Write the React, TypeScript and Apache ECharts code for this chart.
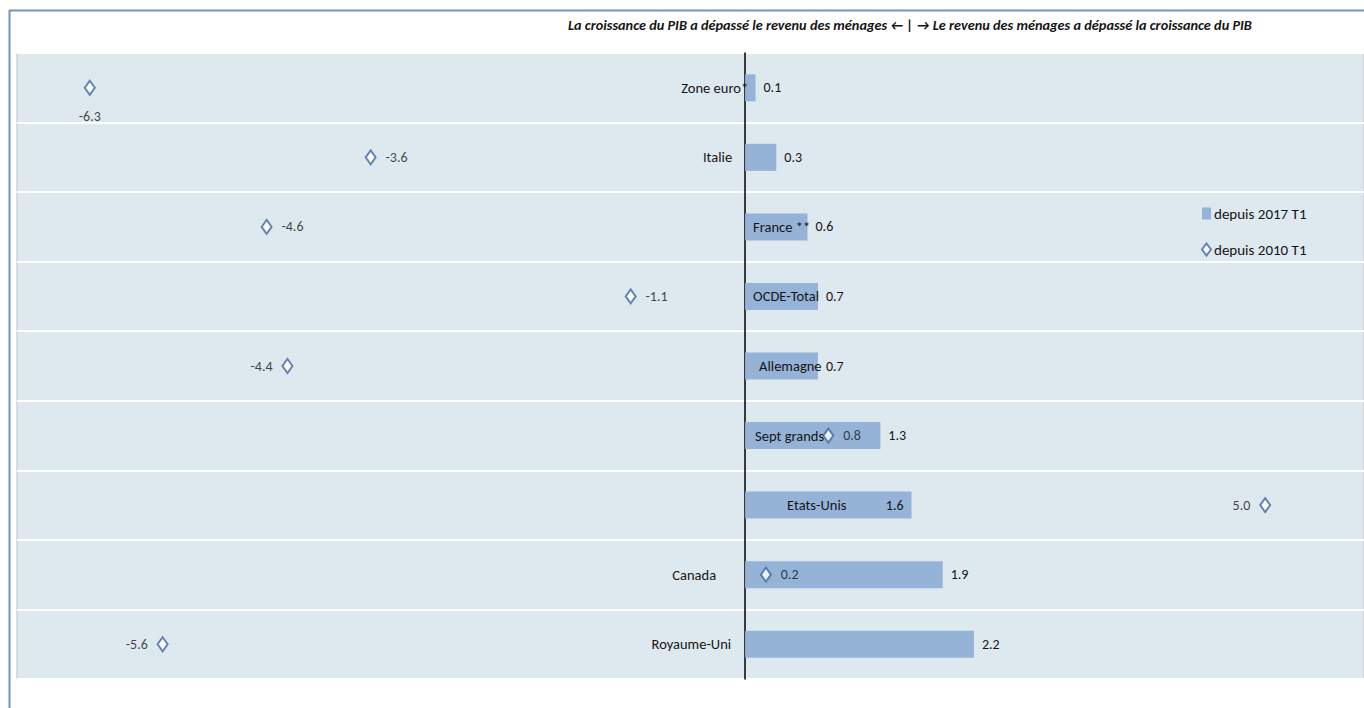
import React, { useEffect, useRef } from "react";
import * as echarts from "echarts";

const categories = [
  "Zone euro*",
  "Italie",
  "France **",
  "OCDE-Total",
  "Allemagne",
  "Sept grands",
  "Etats-Unis",
  "Canada",
  "Royaume-Uni",
];
const since2017 = [0.1, 0.3, 0.6, 0.7, 0.7, 1.3, 1.6, 1.9, 2.2];
const since2010 = [-6.3, -3.6, -4.6, -1.1, -4.4, 0.8, 5.0, 0.2, -5.6];
const seriesNames = ["depuis 2017 T1", "depuis 2010 T1"];
const titleText =
  "La croissance du PIB a dépassé le revenu des ménages \u2190 | \u2192 Le revenu des ménages a dépassé la croissance du PIB";

// label placement (styling only)
const namePlacement: [number, "left" | "right"][] = [
  [3, "right"],
  [-13, "right"],
  [8, "left"],
  [8, "left"],
  [14, "left"],
  [10, "left"],
  [42, "left"],
  [-29, "right"],
  [-14, "right"],
];
const valuePlacement = ["right", "right", "right", "right", "right", "right", "insideRight", "right", "right"];
const diamondPlacement = ["bottom", "right", "right", "right", "left", "right", "left", "right", "left"];

const FONT = "Carlito, Lato, 'Liberation Sans Narrow', sans-serif";
const TXT = "#151515";

export default function App() {
  const ref = useRef<HTMLDivElement>(null);
  useEffect(() => {
    if (!ref.current) return;
    const chart = echarts.init(ref.current, null, { renderer: "svg" });
    const option: any = {
      animation: false,
      backgroundColor: "#ffffff",
      textStyle: { fontFamily: FONT },
      grid: {
        left: 17,
        right: 0,
        top: 53,
        bottom: 29,
        show: true,
        backgroundColor: "#dee8ef",
        borderColor: "#bfbfbf",
        borderWidth: 1,
      },
      legend: {
        data: [
          { name: seriesNames[0], icon: "rect" },
          { name: seriesNames[1] },
        ],
        orient: "vertical",
        left: 1196,
        top: 201,
        itemGap: 21,
        itemWidth: 9,
        itemHeight: 12,
        textStyle: { fontFamily: FONT, fontSize: 15, color: TXT, padding: [0, 0, 0, -2] },
      },
      xAxis: {
        type: "value",
        min: -7,
        max: 5.95,
        show: false,
        splitLine: { show: false },
      },
      yAxis: {
        type: "category",
        data: categories,
        inverse: true,
        axisTick: { show: false },
        axisLabel: { show: false },
        axisLine: { show: true, onZero: true, lineStyle: { color: "#000", width: 1.5 } },
        splitLine: { show: true, lineStyle: { color: "#ffffff", width: 2 } },
      },
      graphic: [
        {
          type: "line",
          shape: { x1: 9, y1: 10.5, x2: 1364, y2: 10.5 },
          style: { stroke: "#6f93c6", lineWidth: 2 },
          silent: true,
        },
        {
          type: "line",
          shape: { x1: 9.5, y1: 10, x2: 9.5, y2: 708 },
          style: { stroke: "#6f93c6", lineWidth: 2 },
          silent: true,
        },
        {
          type: "text",
          left: 568,
          top: 18,
          style: {
            text: titleText,
            fontFamily: FONT,
            fontStyle: "italic",
            fontWeight: "bold",
            fontSize: 14.3,
            fill: TXT,
          },
        },
      ],
      series: [
        {
          name: seriesNames[0],
          type: "bar",
          barWidth: 27,
          itemStyle: { color: "#95b3d7" },
          z: 2,
          data: since2017.map((v, i) => ({
            value: v,
            label: {
              show: true,
              position: valuePlacement[i],
              distance: 8,
              formatter: (p: any) => p.value.toFixed(1),
              fontFamily: FONT,
              fontSize: 14,
              color: TXT,
            },
          })),
        },
        {
          name: "noms",
          type: "bar",
          barWidth: 27,
          barGap: "-100%",
          itemStyle: { color: "rgba(0,0,0,0)" },
          silent: true,
          z: 3,
          data: since2017.map((v, i) => ({
            value: v,
            label: {
              show: true,
              position: [namePlacement[i][0], "50%"],
              align: namePlacement[i][1],
              verticalAlign: "middle",
              formatter: categories[i],
              fontFamily: FONT,
              fontSize: 14.5,
              color: TXT,
            },
          })),
        },
        {
          name: seriesNames[1],
          type: "scatter",
          symbol: "emptyDiamond",
          symbolSize: [10, 14],
          itemStyle: { color: "#44679e", borderColor: "#44679e", borderWidth: 1.8 },
          z: 4,
          data: since2010.map((v, i) => ({
            value: [v, categories[i]],
            label: {
              show: true,
              position: diamondPlacement[i],
              distance: diamondPlacement[i] === "bottom" ? 14 : 9,
              formatter: v.toFixed(1),
              fontFamily: FONT,
              fontSize: 14,
              color: TXT,
            },
          })),
        },
      ],
    };
    chart.setOption(option);
    return () => chart.dispose();
  }, []);
  return (
    <div
      ref={ref}
      style={{ position: "fixed", left: 0, top: 0, width: 1364, height: 708 }}
    />
  );
}
